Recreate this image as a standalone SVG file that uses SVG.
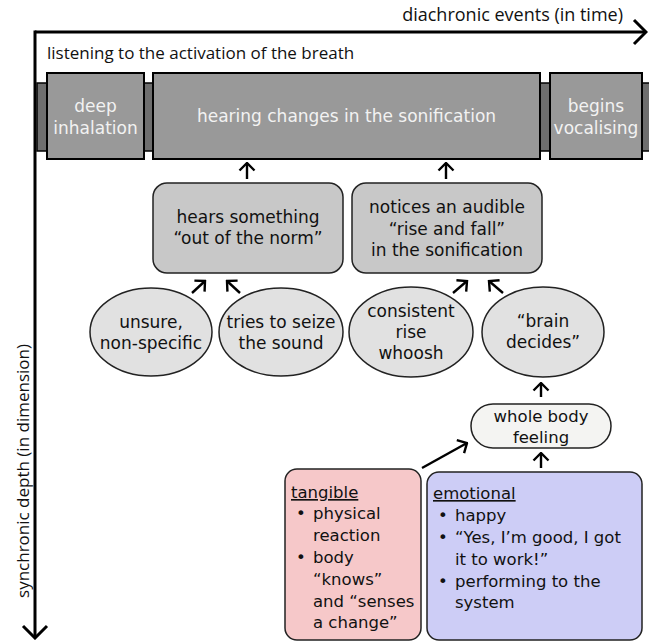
<svg xmlns="http://www.w3.org/2000/svg" width="649" height="642" viewBox="0 0 649 642">
<style>
  .t{font-family:"DejaVu Sans","Open Sans",sans-serif;font-size:17px;fill:#111;text-anchor:middle}
  .s{font-size:16.5px}
  .tl{font-family:"DejaVu Sans","Open Sans",sans-serif;font-size:16.5px;fill:#111}
  .tw{fill:#f2f2f2}
  .ax{font-family:"Open Sans","Noto Sans",sans-serif;font-size:18px;fill:#111}
  .top{fill:#999999;stroke:#000;stroke-width:2}
  .band{fill:#6e6e6e;stroke:#000;stroke-width:1.5}
  .mid{fill:#c8c8c8;stroke:#222;stroke-width:1.5}
  .ell{fill:#e1e1e1;stroke:#222;stroke-width:1.5}
  .pill{fill:#f4f4f2;stroke:#222;stroke-width:1.5}
  .tan{fill:#f6c8c9;stroke:#222;stroke-width:1.5}
  .emo{fill:#cdcdf6;stroke:#222;stroke-width:1.5}
  .c{stroke:#000;stroke-width:2.4;fill:none}
  .axis{stroke:#000;stroke-width:3;fill:none}
</style>
<defs>
  <marker id="ah" viewBox="0 0 12 18" refX="10.5" refY="9" markerWidth="12" markerHeight="18" markerUnits="userSpaceOnUse" orient="auto">
    <path d="M3,1.5 L10.5,9 L3,16.5" fill="none" stroke="#000" stroke-width="2.4"/>
  </marker>
  <marker id="axh" viewBox="0 0 24 28" refX="22" refY="14" markerWidth="24" markerHeight="28" markerUnits="userSpaceOnUse" orient="auto">
    <path d="M10,2 L22,14 L10,26" fill="none" stroke="#000" stroke-width="3"/>
  </marker>
</defs>

<g id="axes">
  <path class="axis" d="M35,32 L646,32" marker-end="url(#axh)"/>
  <path class="axis" d="M35,30.5 L35,638" marker-end="url(#axh)"/>
  <text class="ax" x="623" y="21" text-anchor="end">diachronic events (in time)</text>
  <text class="ax" transform="translate(29,471) rotate(-90)" text-anchor="middle" style="font-size:17px">synchronic depth (in dimension)</text>
  <text class="ax" x="47" y="59" style="font-size:17px">listening to the activation of the breath</text>
</g>

<g id="band">
  <rect class="band" x="37" y="83" width="614" height="68"/>
</g>
<g id="deep-inhalation">
  <rect class="top" x="47" y="73" width="97" height="86"/>
  <text class="t tw" x="95.5" y="112">deep<tspan x="95.5" dy="22">inhalation</tspan></text>
</g>
<g id="hearing-changes">
  <rect class="top" x="153" y="73" width="387" height="86"/>
  <text class="t tw" x="346.5" y="122">hearing changes in the sonification</text>
</g>
<g id="begins-vocalising">
  <rect class="top" x="550" y="73" width="92" height="86"/>
  <text class="t tw" x="596" y="112">begins<tspan x="596" dy="22">vocalising</tspan></text>
</g>

<g id="hears-something">
  <rect class="mid" x="153" y="183" width="190" height="90" rx="14"/>
  <text class="t" x="248" y="223">hears something<tspan x="248" dy="21">“out of the norm”</tspan></text>
</g>
<g id="notices">
  <rect class="mid" x="352" y="183" width="190" height="90" rx="14"/>
  <text class="t" x="447" y="213">notices an audible<tspan x="447" dy="21.5">“rise and fall”</tspan><tspan x="447" dy="21.5">in the sonification</tspan></text>
</g>

<g id="unsure">
  <ellipse class="ell" cx="151" cy="332" rx="61" ry="44"/>
  <text class="t" x="151" y="328">unsure,<tspan x="151" dy="21">non-specific</tspan></text>
</g>
<g id="seize">
  <ellipse class="ell" cx="281" cy="332" rx="62" ry="44"/>
  <text class="t" x="281" y="328">tries to seize<tspan x="281" dy="21">the sound</tspan></text>
</g>
<g id="whoosh">
  <ellipse class="ell" cx="411" cy="332" rx="62" ry="45"/>
  <text class="t" x="411" y="317">consistent<tspan x="411" dy="21">rise</tspan><tspan x="411" dy="21">whoosh</tspan></text>
</g>
<g id="brain">
  <ellipse class="ell" cx="543" cy="332" rx="61" ry="45"/>
  <text class="t" x="543" y="327">“brain<tspan x="543" dy="21">decides”</tspan></text>
</g>

<g id="whole-body">
  <rect class="pill" x="471" y="404" width="140" height="44" rx="22"/>
  <text class="t s" x="541" y="422">whole body<tspan x="541" dy="21">feeling</tspan></text>
</g>

<g id="tangible">
  <rect class="tan" x="285" y="469" width="136" height="171" rx="12"/>
  <text class="tl" x="291" y="498"><tspan text-decoration="underline">tangible</tspan><tspan x="296" dy="21">•</tspan><tspan x="313">physical</tspan><tspan x="313" dy="22">reaction</tspan><tspan x="296" dy="22">•</tspan><tspan x="313">body</tspan><tspan x="313" dy="22">“knows”</tspan><tspan x="313" dy="22">and “senses</tspan><tspan x="313" dy="21">a change”</tspan></text>
</g>
<g id="emotional">
  <rect class="emo" x="427" y="472" width="215" height="168" rx="12"/>
  <text class="tl" x="433" y="499"><tspan text-decoration="underline">emotional</tspan><tspan x="438" dy="22">•</tspan><tspan x="455">happy</tspan><tspan x="438" dy="22">•</tspan><tspan x="455">“Yes, I’m good, I got</tspan><tspan x="455" dy="22">it to work!”</tspan><tspan x="438" dy="22">•</tspan><tspan x="455">performing to the</tspan><tspan x="455" dy="21">system</tspan></text>
</g>

<g id="connectors">
  <path class="c" d="M247,179 L247,163" marker-end="url(#ah)"/>
  <path class="c" d="M446,179 L446,163" marker-end="url(#ah)"/>
  <path class="c" d="M192,293 L205,281" marker-end="url(#ah)"/>
  <path class="c" d="M240,293 L227,281" marker-end="url(#ah)"/>
  <path class="c" d="M453,293 L467,281" marker-end="url(#ah)"/>
  <path class="c" d="M503,293 L489,281" marker-end="url(#ah)"/>
  <path class="c" d="M541,397 L541,383" marker-end="url(#ah)"/>
  <path class="c" d="M541,468 L541,453" marker-end="url(#ah)"/>
  <path class="c" d="M422,468 L467,443" marker-end="url(#ah)"/>
</g>
</svg>
